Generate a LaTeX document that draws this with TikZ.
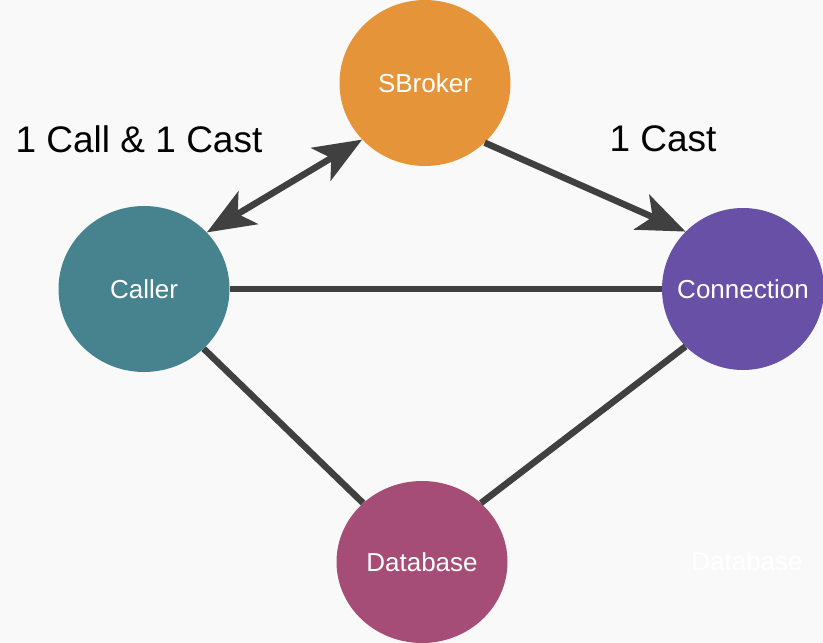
\documentclass[tikz,border=0pt]{standalone}
\usepackage{fontspec}
\setmainfont{Liberation Sans}
\usetikzlibrary{arrows.meta,shapes.geometric}
\definecolor{bgc}{HTML}{F9F9F9}
\definecolor{edgec}{HTML}{404040}
\definecolor{brokerc}{HTML}{E6943A}
\definecolor{callerc}{HTML}{46838F}
\definecolor{connc}{HTML}{6750A6}
\definecolor{dbc}{HTML}{A64D77}
\tikzset{
  actor/.style={ellipse, inner sep=0pt, minimum width=171pt, minimum height=166pt,
    text=white, font=\fontsize{26}{30}\selectfont},
  link/.style={draw=edgec, line width=6.5pt},
  bigtip/.style={-{Stealth[length=48pt,width=38pt,inset=12pt]}},
  bothtips/.style={{Stealth[length=48pt,width=38pt,inset=12pt]}-{Stealth[length=48pt,width=38pt,inset=12pt]}},
  caption/.style={font=\fontsize{37}{42}\selectfont, text=black, inner sep=0pt}
}
\begin{document}
\begin{tikzpicture}[x=1pt,y=-1pt]
  \fill[bgc] (0,0) rectangle (823,643);
  \useasboundingbox (0,0) rectangle (823,643);

  % the labels are zero-width boxes so that the ellipses keep their set size
  \node[actor, fill=brokerc] (broker) at (425,83) {\makebox[0pt]{SBroker}};
  \node[actor, fill=callerc] (caller) at (144,289) {\makebox[0pt]{Caller}};
  \node[actor, fill=connc, minimum width=162pt, minimum height=162pt] (conn) at (743,289) {\makebox[0pt]{Connection}};
  \node[actor, fill=dbc, minimum height=162pt] (db) at (422,562) {\makebox[0pt]{Database}};

  \node[text=white, font=\fontsize{26}{30}\selectfont] (ghost) at (747,561) {Database};

  \node[caption] (lblcall) at (139,139) {1 Call \& 1 Cast};
  \node[caption] (lblcast) at (663,139) {1 Cast};

  \draw[link] (caller.east) -- (conn.west);
  \draw[link] (caller.-45) -- (db.135);
  \draw[link] (conn.-135) -- (db.45);
  \draw[link, bothtips] (caller.42) -- (broker.222);
  \draw[link, bigtip] (broker.-45) -- (conn.135);
\end{tikzpicture}
\end{document}
